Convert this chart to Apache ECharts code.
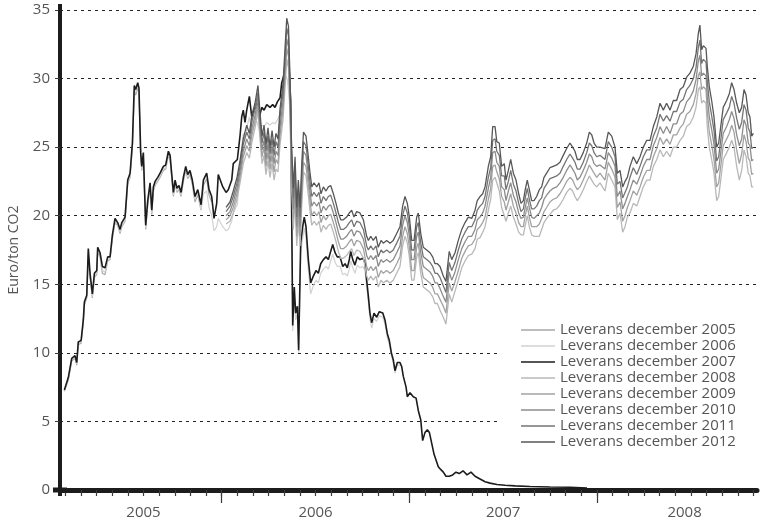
<!DOCTYPE html>
<html>
<head>
<meta charset="utf-8">
<script src="https://cdn.jsdelivr.net/npm/echarts@6/dist/echarts.min.js"></script>
<style>
  html, body { margin: 0; padding: 0; background: #ffffff; }
  #chart { width: 762px; height: 521px; }
</style>
</head>
<body>
<div id="chart"></div>
<script>
// Time is measured in months from 1 January 2005 (12 = Jan 2006, 24 = Jan 2007 ...)

// Trading dates for the contracts that were quoted from the start of 2005
const earlyMonths = [
  1.94, 2.19, 2.41, 2.62, 2.73, 2.83, 3.01, 3.15, 3.22, 3.37,
  3.47, 3.58, 3.73, 3.86, 4.01, 4.07, 4.22, 4.37, 4.54, 4.71,
  4.86, 5.01, 5.18, 5.35, 5.50, 5.61, 5.82, 5.99, 6.14, 6.29,
  6.41, 6.50, 6.63, 6.71, 6.82, 6.89, 6.99, 7.14, 7.27, 7.42,
  7.53, 7.63, 7.74, 7.91, 8.06, 8.27, 8.42, 8.59, 8.70, 8.80,
  8.91, 9.02, 9.14, 9.27, 9.40, 9.55, 9.70, 9.83, 9.97, 10.12,
  10.29, 10.47, 10.68, 10.83, 11.04, 11.19, 11.36, 11.51, 11.68, 11.78,
  12.07, 12.28, 12.42, 12.64, 12.74, 13.00, 13.17, 13.28, 13.38, 13.49,
  13.60, 13.77, 13.92, 14.07, 14.24, 14.41, 14.56, 14.71, 14.88, 15.09,
  15.26, 15.41, 15.56, 15.73, 15.84, 15.99, 16.11, 16.20, 16.29, 16.41,
  16.54, 16.64, 16.73, 16.84, 16.92, 17.05, 17.18, 17.28, 17.39, 17.54,
  17.69, 17.86, 18.03, 18.18, 18.33, 18.50, 18.67, 18.82, 18.97, 19.10,
  19.25, 19.39, 19.57, 19.74, 19.89, 20.03, 20.16, 20.25, 20.38, 20.52,
  20.67, 20.84, 21.02, 21.16, 21.27, 21.38, 21.48, 21.59, 21.74, 21.91,
  22.08, 22.30, 22.44, 22.59, 22.72, 22.85, 22.97, 23.08, 23.23, 23.40,
  23.51, 23.61, 23.79, 23.87, 24.04, 24.25, 24.43, 24.57, 24.73, 24.85,
  25.00, 25.15, 25.28, 25.43, 25.58, 25.70, 25.85, 26.00, 26.17, 26.34,
  26.55, 26.77, 26.98, 27.19, 27.43, 27.69, 27.94, 28.20, 28.52, 28.84,
  29.16, 29.60, 30.12, 30.76, 31.71, 32.99, 34.27, 35.36
];

// Euro per ton CO2
const dec2005 = [
  7.2, 8.0, 9.4, 9.6, 9.1, 10.6, 10.7, 12.2, 13.5, 14.0,
  17.2, 15.5, 14.0, 15.5, 15.7, 17.4, 17.0, 15.8, 15.7, 16.7,
  16.8, 18.3, 19.5, 19.3, 18.7, 19.2, 19.6, 22.3, 22.8, 25.0,
  29.0, 28.8, 29.3, 29.0, 24.2, 23.3, 24.3, 19.0, 20.8, 22.0,
  20.1, 21.8, 22.2, 22.5, 22.8, 23.3, 23.4, 24.4, 24.1, 22.8,
  21.4, 22.3, 21.7, 21.9, 21.4, 22.5, 23.3, 22.7, 23.0, 22.3,
  21.0, 21.5, 20.4, 22.2, 22.7, 21.5, 21.0
];

const dec2006 = [
  7.2, 8.1, 9.5, 9.7, 9.2, 10.7, 10.8, 12.3, 13.6, 14.1,
  17.4, 15.6, 14.1, 15.6, 15.8, 17.5, 17.1, 16.0, 15.9, 16.8,
  16.9, 18.4, 19.6, 19.4, 18.8, 19.3, 19.7, 22.4, 22.9, 25.1,
  29.2, 29.0, 29.5, 29.1, 24.4, 23.4, 24.4, 19.1, 20.9, 22.2,
  20.2, 21.9, 22.3, 22.6, 22.9, 23.4, 23.5, 24.5, 24.2, 22.9,
  21.5, 22.4, 21.8, 22.0, 21.5, 22.6, 23.4, 22.8, 23.1, 22.4,
  21.2, 21.7, 20.4, 21.6, 21.8, 20.6, 20.0, 18.9, 19.2, 19.8,
  19.2, 18.9, 19.0, 19.6, 20.2, 20.8, 23.6, 25.0, 26.0, 25.6,
  26.4, 27.2, 26.2, 26.6, 26.9, 26.2, 26.6, 26.5, 26.8, 26.6,
  26.8, 26.7, 27.0, 27.4, 28.4, 29.2, 30.2, 29.9, 30.0, 27.6,
  11.6, 14.0, 12.4, 12.8, 10.0, 17.2, 18.4, 19.1, 18.4, 16.0,
  14.3, 14.9, 15.3, 15.1, 15.8, 16.1, 16.3, 16.1, 16.7, 17.2,
  16.6, 16.3, 16.3, 15.7, 15.8, 15.6, 16.1, 16.7, 16.2, 15.8,
  16.4, 16.2, 16.3, 16.0, 14.8, 13.7, 12.5, 11.8, 12.5, 12.3,
  12.7, 12.6, 12.1, 11.1, 10.6, 9.8, 9.3, 8.5, 9.1, 9.1
];

const dec2007 = [
  7.3, 8.2, 9.6, 9.8, 9.3, 10.8, 10.9, 12.4, 13.7, 14.2,
  17.6, 15.8, 14.3, 15.8, 16.0, 17.7, 17.3, 16.3, 16.2, 17.0,
  17.0, 18.6, 19.8, 19.5, 19.0, 19.5, 19.9, 22.6, 23.1, 25.3,
  29.5, 29.2, 29.7, 29.3, 24.6, 23.6, 24.6, 19.3, 21.1, 22.4,
  20.4, 22.1, 22.5, 22.8, 23.1, 23.6, 23.7, 24.7, 24.4, 23.1,
  21.7, 22.6, 22.0, 22.2, 21.7, 22.8, 23.6, 23.0, 23.3, 22.6,
  21.4, 21.9, 20.8, 22.6, 23.1, 21.9, 21.4, 19.8, 20.9, 23.0,
  22.1, 21.7, 21.9, 22.6, 23.8, 24.1, 25.8, 27.2, 27.7, 26.8,
  27.7, 28.7, 27.2, 27.7, 28.2, 27.2, 27.9, 27.7, 28.1, 27.9,
  28.1, 27.9, 28.3, 28.6, 29.7, 30.3, 31.4, 31.0, 31.2, 28.4,
  12.0, 14.8, 12.9, 13.4, 10.2, 18.0, 19.2, 19.9, 19.2, 16.8,
  15.1, 15.6, 16.0, 15.8, 16.5, 16.8, 17.0, 16.8, 17.4, 17.9,
  17.3, 17.0, 17.0, 16.3, 16.5, 16.2, 16.8, 17.4, 16.8, 16.4,
  17.0, 16.8, 16.9, 16.6, 15.3, 14.1, 12.9, 12.2, 12.9, 12.6,
  13.0, 12.9, 12.4, 11.4, 10.9, 10.0, 9.5, 8.7, 9.3, 9.3,
  9.0, 8.3, 7.5, 6.8, 7.1, 6.8, 6.7, 5.8, 5.1, 3.6,
  4.2, 4.4, 4.2, 3.4, 2.6, 2.2, 1.7, 1.5, 1.3, 1.0,
  1.0, 1.1, 1.3, 1.2, 1.4, 1.1, 1.3, 1.0, 0.8, 0.6,
  0.5, 0.4, 0.35, 0.3, 0.25, 0.22, 0.2, 0.15
];

// Trading dates for the contracts of the 2008-2012 period
const lateMonths = [
  12.28, 12.53, 12.74, 12.98, 13.17, 13.38, 13.60, 13.77, 13.94, 14.13,
  14.32, 14.45, 14.58, 14.71, 14.83, 14.96, 15.09, 15.22, 15.35, 15.47,
  15.60, 15.73, 15.92, 16.05, 16.16, 16.27, 16.37, 16.46, 16.58, 16.69,
  16.80, 16.90, 17.01, 17.12, 17.23, 17.39, 17.54, 17.65, 17.76, 17.90,
  18.08, 18.22, 18.35, 18.50, 18.67, 18.82, 18.97, 19.14, 19.31, 19.46,
  19.61, 19.78, 19.99, 20.16, 20.31, 20.46, 20.63, 20.84, 21.06, 21.27,
  21.38, 21.53, 21.69, 21.87, 22.01, 22.19, 22.33, 22.55, 22.76, 22.97,
  23.19, 23.40, 23.57, 23.72, 23.87, 24.00, 24.15, 24.30, 24.47, 24.57,
  24.73, 24.89, 25.11, 25.32, 25.49, 25.64, 25.79, 25.96, 26.17, 26.34,
  26.55, 26.71, 26.92, 27.13, 27.35, 27.56, 27.77, 27.99, 28.20, 28.34,
  28.52, 28.69, 28.84, 29.05, 29.20, 29.33, 29.48, 29.59, 29.75, 29.90,
  30.07, 30.18, 30.33, 30.48, 30.65, 30.82, 30.99, 31.14, 31.29, 31.41,
  31.54, 31.67, 31.82, 31.97, 32.14, 32.31, 32.46, 32.61, 32.78, 32.99,
  33.20, 33.42, 33.63, 33.84, 34.06, 34.27, 34.44, 34.59, 34.74, 34.91,
  35.12, 35.34, 35.51, 35.66, 35.81, 35.98, 36.19, 36.51, 36.72, 36.94,
  37.15, 37.30, 37.47, 37.64, 37.79, 37.94, 38.11, 38.32, 38.54, 38.75,
  38.96, 39.18, 39.39, 39.60, 39.82, 40.03, 40.24, 40.45, 40.67, 40.88,
  41.09, 41.31, 41.52, 41.73, 41.94, 42.16, 42.33, 42.48, 42.58, 42.69,
  42.80, 42.97, 43.05, 43.18, 43.33, 43.48, 43.65, 43.78, 43.91, 44.07,
  44.29, 44.46, 44.61, 44.76, 44.93, 45.10, 45.25, 45.40, 45.53, 45.67,
  45.78, 45.89, 46.00
];

const dec2008 = [
  19.4, 19.6, 20.2, 21.2, 22.4, 23.8, 24.6, 24.2, 25.4, 26.4,
  27.6, 25.6, 23.8, 24.4, 23.0, 24.0, 22.8, 23.8, 22.6, 23.4,
  23.2, 25.2, 27.0, 29.4, 31.4, 30.8, 27.0, 22.5, 19.0, 21.2,
  17.8, 19.6, 17.8, 20.8, 23.2, 22.9, 21.5, 20.3, 19.3, 19.6,
  19.3, 19.6, 18.8, 19.3, 19.0, 19.3, 19.4, 18.8, 18.1, 17.4,
  16.9, 16.9, 17.1, 17.4, 17.6, 17.1, 17.5, 17.4, 16.9, 15.6,
  15.3, 15.6, 15.3, 15.6, 14.8, 15.3, 15.1, 15.3, 15.1, 15.3,
  15.8, 16.3, 17.8, 18.5, 18.0, 17.0, 15.3, 15.3, 17.0, 17.3,
  15.8, 14.8, 14.6, 14.4, 14.1, 13.6, 13.6, 13.1, 12.6, 12.1,
  14.3, 13.7, 14.5, 15.3, 16.2, 16.7, 17.1, 17.2, 17.6, 18.3,
  18.4, 18.8, 19.2, 20.4, 21.2, 22.6, 22.8, 22.4, 21.8, 20.6,
  20.0, 19.6, 20.2, 20.7, 19.9, 19.4, 18.8, 18.6, 18.6, 19.3,
  20.0, 19.2, 18.6, 18.5, 18.5, 18.5, 19.0, 19.5, 19.8, 20.1,
  20.4, 20.5, 20.8, 21.2, 21.7, 22.0, 21.8, 21.4, 21.1, 21.4,
  21.9, 22.5, 22.9, 22.6, 22.3, 22.1, 22.4, 21.8, 23.1, 22.6,
  22.1, 19.7, 20.2, 18.8, 19.2, 19.9, 20.2, 20.9, 20.7, 21.4,
  22.1, 22.6, 22.6, 23.6, 24.1, 24.8, 24.3, 24.7, 24.3, 25.0,
  25.0, 25.5, 25.8, 26.5, 26.7, 27.2, 27.9, 29.2, 29.4, 28.2,
  28.4, 28.2, 26.5, 25.0, 24.1, 23.1, 21.1, 21.4, 22.6, 24.1,
  24.6, 25.0, 25.5, 25.0, 23.6, 22.6, 23.3, 24.8, 24.3, 23.1,
  22.9, 22.1, 22.1
];

const dec2009 = [
  19.7, 20.0, 20.6, 21.6, 22.8, 24.3, 25.1, 24.7, 25.9, 26.9,
  28.1, 26.1, 24.3, 25.0, 23.6, 24.6, 23.4, 24.4, 23.2, 24.1,
  23.8, 25.9, 27.7, 30.1, 32.2, 31.6, 27.8, 23.3, 19.8, 22.0,
  18.5, 20.4, 18.5, 21.6, 23.9, 23.6, 22.2, 21.0, 20.0, 20.3,
  20.0, 20.3, 19.5, 20.0, 19.7, 20.0, 20.1, 19.5, 18.8, 18.1,
  17.6, 17.6, 17.8, 18.1, 18.3, 17.8, 18.2, 18.1, 17.6, 16.3,
  16.0, 16.3, 16.0, 16.3, 15.5, 16.0, 15.8, 16.0, 15.8, 16.0,
  16.5, 17.0, 18.5, 19.2, 18.7, 17.7, 16.0, 16.0, 17.7, 18.0,
  16.5, 15.5, 15.3, 15.1, 14.8, 14.3, 14.3, 13.9, 13.4, 12.9,
  15.1, 14.5, 15.2, 16.0, 16.9, 17.4, 17.8, 17.9, 18.3, 19.0,
  19.2, 19.5, 19.9, 21.2, 22.0, 23.6, 23.7, 23.2, 22.7, 21.4,
  21.0, 20.4, 21.0, 21.6, 20.7, 20.2, 19.5, 19.2, 19.2, 20.0,
  20.7, 19.9, 19.2, 19.2, 19.2, 19.4, 19.8, 20.3, 20.6, 21.0,
  21.2, 21.3, 21.6, 22.0, 22.5, 22.8, 22.6, 22.2, 21.9, 22.1,
  22.6, 23.2, 23.7, 23.4, 23.1, 22.8, 23.1, 22.6, 23.9, 23.4,
  22.8, 20.6, 21.0, 19.6, 20.0, 20.6, 21.1, 21.8, 21.5, 22.1,
  22.8, 23.3, 23.3, 24.3, 24.9, 25.7, 25.2, 25.6, 25.2, 25.9,
  25.9, 26.4, 26.7, 27.4, 27.6, 28.1, 28.9, 30.2, 30.5, 29.2,
  29.4, 29.2, 27.6, 26.1, 25.2, 24.1, 22.1, 22.4, 23.6, 25.1,
  25.6, 26.0, 26.6, 26.1, 24.8, 23.8, 24.5, 25.9, 25.4, 24.2,
  24.0, 23.0, 23.1
];

const dec2010 = [
  20.0, 20.3, 21.0, 22.0, 23.2, 24.7, 25.6, 25.1, 26.4, 27.3,
  28.6, 26.6, 24.8, 25.5, 24.1, 25.2, 23.9, 25.0, 23.8, 24.7,
  24.4, 26.5, 28.3, 30.8, 32.9, 32.3, 28.5, 24.0, 20.5, 22.8,
  19.2, 21.1, 19.2, 22.3, 24.7, 24.4, 22.9, 21.7, 20.7, 21.0,
  20.7, 21.0, 20.2, 20.7, 20.4, 20.7, 20.8, 20.2, 19.5, 18.8,
  18.3, 18.3, 18.5, 18.8, 19.0, 18.5, 18.9, 18.8, 18.3, 17.1,
  16.8, 17.1, 16.8, 17.1, 16.3, 16.8, 16.6, 16.8, 16.6, 16.8,
  17.3, 17.8, 19.3, 20.0, 19.5, 18.5, 16.8, 16.8, 18.5, 18.8,
  17.3, 16.3, 16.1, 15.9, 15.6, 15.1, 15.1, 14.7, 14.1, 13.7,
  15.9, 15.3, 15.9, 16.8, 17.6, 18.1, 18.5, 18.5, 19.0, 19.7,
  19.9, 20.2, 20.7, 22.0, 22.8, 24.6, 24.7, 23.9, 23.6, 22.1,
  21.9, 21.1, 21.8, 22.4, 21.5, 21.0, 20.2, 19.8, 19.9, 20.6,
  21.3, 20.6, 19.9, 19.8, 20.0, 20.2, 20.6, 21.2, 21.5, 21.8,
  22.0, 22.1, 22.4, 22.8, 23.3, 23.7, 23.4, 23.1, 22.6, 22.8,
  23.3, 23.9, 24.5, 24.3, 23.8, 23.6, 23.7, 23.4, 24.6, 24.2,
  23.6, 21.4, 21.8, 20.5, 20.9, 21.4, 21.9, 22.6, 22.3, 22.9,
  23.6, 24.1, 24.1, 25.1, 25.7, 26.5, 26.0, 26.5, 26.0, 26.7,
  26.7, 27.4, 27.6, 28.3, 28.6, 29.1, 29.9, 31.3, 31.7, 30.2,
  30.4, 30.2, 28.7, 27.2, 26.3, 25.2, 23.1, 23.4, 24.6, 26.0,
  26.5, 27.0, 27.6, 27.1, 25.9, 25.1, 25.6, 27.0, 26.6, 25.3,
  25.1, 24.0, 24.1
];

const dec2011 = [
  20.3, 20.7, 21.4, 22.4, 23.6, 25.2, 26.1, 25.6, 26.9, 27.8,
  29.0, 27.0, 25.3, 26.1, 24.7, 25.8, 24.5, 25.6, 24.4, 25.4,
  25.0, 27.2, 29.0, 31.5, 33.7, 33.1, 29.3, 24.8, 21.3, 23.5,
  19.9, 21.9, 19.9, 23.1, 25.4, 25.1, 23.6, 22.4, 21.4, 21.7,
  21.4, 21.7, 20.9, 21.4, 21.1, 21.4, 21.5, 20.9, 20.2, 19.5,
  19.0, 19.0, 19.2, 19.5, 19.7, 19.2, 19.6, 19.5, 19.0, 17.8,
  17.5, 17.8, 17.5, 17.8, 17.0, 17.5, 17.3, 17.5, 17.3, 17.5,
  18.0, 18.5, 20.0, 20.7, 20.2, 19.2, 17.5, 17.5, 19.2, 19.5,
  18.0, 17.0, 16.8, 16.6, 16.3, 15.8, 15.8, 15.5, 14.9, 14.4,
  16.6, 16.0, 16.6, 17.5, 18.3, 18.8, 19.2, 19.2, 19.7, 20.4,
  20.7, 20.9, 21.4, 22.8, 23.5, 25.5, 25.6, 24.7, 24.4, 22.9,
  22.9, 21.9, 22.5, 23.3, 22.3, 21.8, 20.9, 20.3, 20.5, 21.3,
  22.0, 21.2, 20.5, 20.5, 20.7, 21.1, 21.3, 22.0, 22.3, 22.7,
  22.8, 22.9, 23.1, 23.6, 24.1, 24.5, 24.2, 23.9, 23.4, 23.4,
  23.9, 24.6, 25.3, 25.1, 24.6, 24.3, 24.4, 24.1, 25.4, 25.0,
  24.3, 22.3, 22.5, 21.3, 21.7, 22.1, 22.8, 23.5, 23.0, 23.6,
  24.3, 24.8, 24.8, 25.8, 26.4, 27.4, 26.9, 27.3, 26.9, 27.6,
  27.6, 28.3, 28.5, 29.2, 29.5, 30.0, 30.8, 32.3, 32.8, 31.1,
  31.4, 31.2, 29.8, 28.3, 27.3, 26.2, 24.0, 24.3, 25.5, 27.0,
  27.5, 27.9, 28.7, 28.2, 27.1, 26.3, 26.8, 28.1, 27.7, 26.4,
  26.1, 24.9, 25.0
];

const dec2012 = [
  20.6, 21.0, 21.8, 22.8, 24.0, 25.6, 26.6, 26.0, 27.4, 28.2,
  29.5, 27.5, 25.8, 26.6, 25.2, 26.4, 25.0, 26.2, 25.0, 26.0,
  25.6, 27.8, 29.6, 32.2, 34.4, 33.8, 30.0, 25.5, 22.0, 24.3,
  20.6, 22.6, 20.6, 23.8, 26.1, 25.8, 24.3, 23.1, 22.1, 22.4,
  22.1, 22.4, 21.6, 22.1, 21.8, 22.1, 22.2, 21.6, 20.9, 20.2,
  19.7, 19.7, 19.9, 20.2, 20.4, 19.9, 20.3, 20.2, 19.7, 18.5,
  18.2, 18.5, 18.2, 18.5, 17.7, 18.2, 18.0, 18.2, 18.0, 18.2,
  18.7, 19.2, 20.7, 21.4, 20.9, 19.9, 18.2, 18.2, 19.9, 20.2,
  18.7, 17.7, 17.5, 17.3, 17.0, 16.5, 16.5, 16.3, 15.6, 15.2,
  17.4, 16.8, 17.3, 18.2, 19.0, 19.5, 19.9, 19.8, 20.4, 21.1,
  21.4, 21.6, 22.1, 23.6, 24.3, 26.5, 26.5, 25.4, 25.3, 23.6,
  23.8, 22.6, 23.3, 24.1, 23.1, 22.6, 21.6, 20.9, 21.1, 21.9,
  22.6, 21.9, 21.1, 21.1, 21.4, 21.9, 22.1, 22.8, 23.1, 23.5,
  23.6, 23.7, 23.9, 24.4, 24.9, 25.3, 25.0, 24.7, 24.1, 24.1,
  24.6, 25.3, 26.1, 25.9, 25.3, 25.0, 25.0, 24.9, 26.1, 25.8,
  25.0, 23.1, 23.3, 22.1, 22.5, 22.8, 23.6, 24.3, 23.8, 24.3,
  25.0, 25.5, 25.5, 26.5, 27.2, 28.2, 27.7, 28.2, 27.7, 28.4,
  28.4, 29.2, 29.4, 30.1, 30.4, 30.9, 31.8, 33.3, 33.9, 32.1,
  32.4, 32.2, 30.9, 29.4, 28.4, 27.2, 25.0, 25.3, 26.5, 27.9,
  28.4, 28.9, 29.7, 29.2, 28.2, 27.5, 27.9, 29.2, 28.8, 27.5,
  27.2, 25.8, 26.0
];

// Axis layout: visible period and where the year names sit
const X_MIN = 1.66;
const X_MAX = 46.23;
const yearLabelMonths = [7, 18, 30, 41.6];
const yearTicks = [12, 24, 36];
const monthTicks = [];
for (let m = 2; m <= 46; m++) monthTicks.push(m);

const FONT = "'Open Sans', 'Lato', 'DejaVu Sans', sans-serif";
const TEXT_GREY = '#555555';
const AXIS_BLACK = '#1c1c1c';

function pairs(xs, ys) {
  return ys.map(function (v, i) { return [xs[i], v]; });
}

const contracts = [
  { name: 'Leverans december 2005', x: earlyMonths, y: dec2005, color: '#a8a8a8', width: 1.2 },
  { name: 'Leverans december 2006', x: earlyMonths, y: dec2006, color: '#d2d2d2', width: 1.2 },
  { name: 'Leverans december 2007', x: earlyMonths, y: dec2007, color: '#1c1c1c', width: 1.6 },
  { name: 'Leverans december 2008', x: lateMonths, y: dec2008, color: '#b8b8b8', width: 1.3 },
  { name: 'Leverans december 2009', x: lateMonths, y: dec2009, color: '#a2a2a2', width: 1.3 },
  { name: 'Leverans december 2010', x: lateMonths, y: dec2010, color: '#8c8c8c', width: 1.3 },
  { name: 'Leverans december 2011', x: lateMonths, y: dec2011, color: '#747474', width: 1.3 },
  { name: 'Leverans december 2012', x: lateMonths, y: dec2012, color: '#575757', width: 1.3 }
];

const chart = echarts.init(document.getElementById('chart'), null, { renderer: 'canvas' });

chart.setOption({
  animation: false,
  backgroundColor: '#ffffff',
  textStyle: { fontFamily: FONT },
  grid: { left: 60, right: 5, top: 10, bottom: 31, outerBoundsMode: 'none' },
  legend: {
    orient: 'vertical',
    left: 500,
    top: 314,
    padding: [8, 22, 8, 21],
    backgroundColor: '#ffffff',
    icon: 'rect',
    itemWidth: 34,
    itemHeight: 1.5,
    itemGap: 0,
    selectedMode: false,
    data: contracts.map(function (c) { return c.name; }),
    textStyle: { color: TEXT_GREY, fontSize: 15, lineHeight: 16, fontFamily: FONT }
  },
  xAxis: [
    {
      type: 'value',
      min: X_MIN,
      max: X_MAX,
      position: 'bottom',
      axisLine: {
        show: true,
        onZero: false,
        symbol: ['rect', 'none'],
        symbolSize: [5, 14],
        lineStyle: { color: AXIS_BLACK, width: 5 }
      },
      axisTick: {
        show: true,
        customValues: monthTicks,
        length: 6,
        lineStyle: { color: '#3a3a3a', width: 1.2 }
      },
      axisLabel: {
        customValues: yearLabelMonths,
        formatter: function (v) { return String(2005 + Math.floor(v / 12)); },
        color: TEXT_GREY,
        fontSize: 15,
        fontFamily: FONT,
        margin: 15
      },
      splitLine: { show: false }
    },
    {
      type: 'value',
      min: X_MIN,
      max: X_MAX,
      position: 'bottom',
      axisLine: { show: false, onZero: false },
      axisTick: {
        show: true,
        customValues: yearTicks,
        length: 13,
        lineStyle: { color: '#3a3a3a', width: 1.2 }
      },
      axisLabel: { show: false },
      splitLine: { show: false }
    }
  ],
  yAxis: {
    type: 'value',
    min: 0,
    max: 35,
    interval: 5,
    name: 'Euro/ton CO2',
    nameLocation: 'middle',
    nameGap: 39,
    nameTextStyle: { color: TEXT_GREY, fontSize: 14, fontFamily: FONT },
    axisLine: {
      show: true,
      symbol: ['rect', 'rect'],
      symbolSize: [4, 12],
      lineStyle: { color: AXIS_BLACK, width: 4 }
    },
    axisTick: { show: true, length: 5, lineStyle: { color: '#3a3a3a', width: 1 } },
    axisLabel: { color: TEXT_GREY, fontSize: 15, fontFamily: FONT, margin: 10 },
    splitLine: { show: true, lineStyle: { color: '#222222', width: 1, type: [3, 4] } }
  },
  series: contracts.map(function (c) {
    return {
      name: c.name,
      type: 'line',
      xAxisIndex: 0,
      data: pairs(c.x, c.y),
      symbol: 'none',
      showSymbol: false,
      silent: true,
      lineStyle: { color: c.color, width: c.width },
      itemStyle: { color: c.color },
      emphasis: { disabled: true }
    };
  })
});
</script>
</body>
</html>
